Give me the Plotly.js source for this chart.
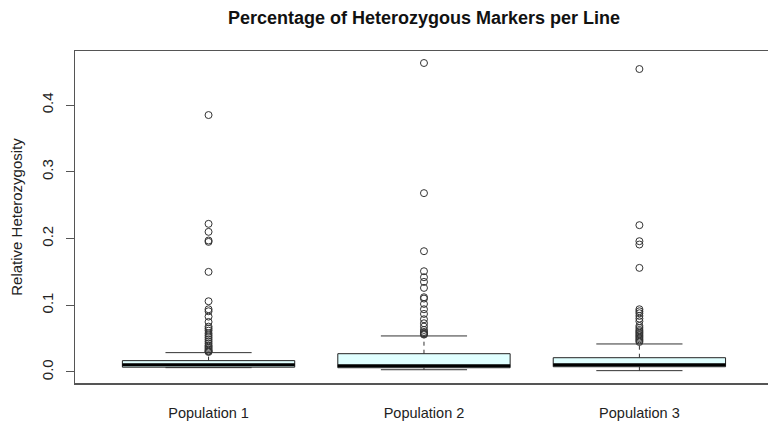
<!DOCTYPE html>
<html>
<head>
<meta charset="utf-8">
<script src="https://cdn.plot.ly/plotly-3.0.1.min.js"></script>
<style>html,body{margin:0;padding:0;background:#fff;}#chart{width:768px;height:421px;}</style>
</head>
<body>
<div id="chart"></div>
<script>
// ---- data ----
const categories = ["Population 1", "Population 2", "Population 3"];
const lowerWhisker = [0.0065, 0.0034, 0.0020];
const q1 = [0.0072, 0.0064, 0.0079];
const median = [0.0110, 0.0094, 0.0110];
const q3 = [0.0170, 0.0274, 0.0214];
const upperWhisker = [0.0290, 0.0540, 0.0420];
const outliersPop1 = [0.385, 0.222, 0.210, 0.197, 0.195, 0.150, 0.106, 0.094, 0.091, 0.083, 0.075, 0.068, 0.065, 0.062, 0.058, 0.055, 0.052, 0.049, 0.046, 0.043, 0.040, 0.038, 0.036, 0.034, 0.032, 0.031, 0.030];
const outliersPop2 = [0.463, 0.268, 0.181, 0.151, 0.142, 0.135, 0.126, 0.112, 0.110, 0.102, 0.094, 0.087, 0.079, 0.073, 0.068, 0.063, 0.060, 0.058, 0.057, 0.056];
const outliersPop3 = [0.454, 0.220, 0.196, 0.191, 0.156, 0.094, 0.091, 0.088, 0.084, 0.080, 0.076, 0.069, 0.066, 0.063, 0.061, 0.059, 0.057, 0.055, 0.053, 0.051, 0.049, 0.047, 0.045];
const yTickVals = [0, 0.1, 0.2, 0.3, 0.4];
const yTickText = ["0.0", "0.1", "0.2", "0.3", "0.4"];

// ---- build traces ----
const pos = categories.map((c, i) => i + 1);
const boxWidth = 0.8;
const stapleHalf = boxWidth / 4;
const font = "Liberation Sans, Arial, sans-serif";
const lineCol = "#333";

const traces = [];

// boxes (whiskers drawn separately so they can be dashed)
traces.push({
  type: "box",
  x: pos,
  q1: q1, median: median, q3: q3,
  lowerfence: q1, upperfence: q3,
  width: boxWidth,
  whiskerwidth: 0,
  fillcolor: "#E0FFFF",
  line: {color: "#222", width: 1},
  boxpoints: false,
  hoverinfo: "skip",
  showlegend: false
});

// dashed whiskers
const wx = [], wy = [];
pos.forEach((p, i) => {
  wx.push(p, p, null, p, p, null);
  wy.push(q3[i], upperWhisker[i], null, q1[i], lowerWhisker[i], null);
});
traces.push({type: "scatter", mode: "lines", x: wx, y: wy,
  line: {color: lineCol, width: 1, dash: "4px,4px"}, hoverinfo: "skip", showlegend: false});

// staples
const sx = [], sy = [];
pos.forEach((p, i) => {
  sx.push(p - stapleHalf, p + stapleHalf, null, p - stapleHalf, p + stapleHalf, null);
  sy.push(upperWhisker[i], upperWhisker[i], null, lowerWhisker[i], lowerWhisker[i], null);
});
traces.push({type: "scatter", mode: "lines", x: sx, y: sy,
  line: {color: lineCol, width: 1}, hoverinfo: "skip", showlegend: false});

// thick medians
const mx = [], my = [];
pos.forEach((p, i) => {
  mx.push(p - boxWidth / 2, p + boxWidth / 2, null);
  my.push(median[i], median[i], null);
});
traces.push({type: "scatter", mode: "lines", x: mx, y: my,
  line: {color: "#000", width: 3}, hoverinfo: "skip", showlegend: false});

// outliers
[outliersPop1, outliersPop2, outliersPop3].forEach((arr, i) => {
  traces.push({type: "scatter", mode: "markers",
    x: arr.map(() => pos[i]), y: arr,
    marker: {symbol: "circle-open", size: 7, color: "#333", line: {width: 1}},
    hoverinfo: "skip", showlegend: false});
});

const layout = {
  width: 768, height: 421,
  margin: {l: 75, r: 0, t: 51, b: 38},
  paper_bgcolor: "#fff", plot_bgcolor: "#fff",
  showlegend: false,
  font: {family: font, color: "#222", size: 12},
  title: {
    text: "<b>Percentage of Heterozygous Markers per Line</b>",
    font: {family: font, size: 18, color: "#111"},
    x: 424 / 768, xanchor: "center", xref: "container",
    y: 1 - 18 / 421, yanchor: "middle", yref: "container"
  },
  xaxis: {
    range: [0.38, 3.597],
    tickvals: pos, ticktext: categories,
    ticks: "", showgrid: false, zeroline: false,
    showline: true, linecolor: "#555", linewidth: 1.5, mirror: true,
    tickfont: {family: font, size: 14.5, color: "#222"},
    ticklabelstandoff: 16
  },
  yaxis: {
    range: [-0.0165, 0.481],
    tickvals: yTickVals, ticktext: yTickText,
    ticks: "outside", ticklen: 8, tickcolor: "#555", tickwidth: 1,
    tickangle: -90,
    showgrid: false, zeroline: false,
    showline: true, linecolor: "#555", linewidth: 1.5,
    tickfont: {family: font, size: 15, color: "#222"},
    ticklabelstandoff: 7,
    title: {text: "Relative Heterozygosity", font: {family: font, size: 15, color: "#222"}, standoff: 12}
  }
};

Plotly.newPlot("chart", traces, layout, {displayModeBar: false, staticPlot: true});
</script>
</body>
</html>
